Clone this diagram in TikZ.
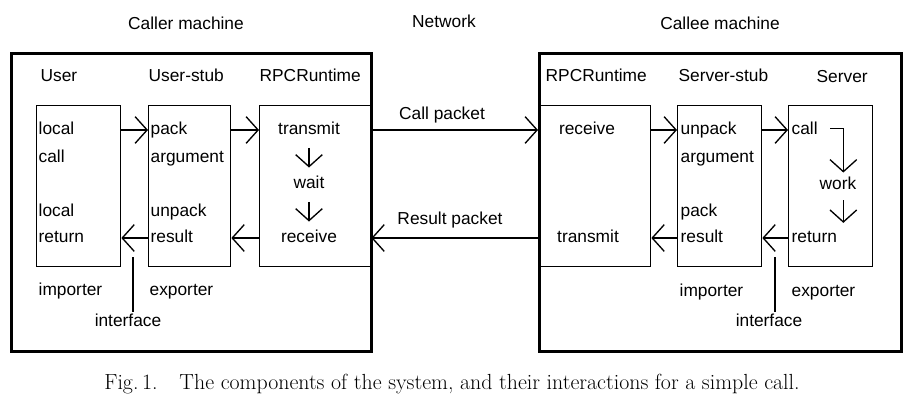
\documentclass[tikz,border=0pt]{standalone}
\usepackage{fontspec}
\setsansfont{Liberation Sans}
\usetikzlibrary{arrows.meta,positioning}
\tikzset{
  lbl/.style={anchor=west, text height=9.5pt, text depth=2.7pt},
  ctr/.style={anchor=center, text height=9.5pt, text depth=2.7pt},
  blk/.style 2 args={draw, line width=1pt, minimum width=#1*0.75pt, minimum height=#2*0.75pt, inner sep=0pt, anchor=north west},
  machine/.style 2 args={blk={#1}{#2}, line width=2pt},
}

\begin{document}
\begin{tikzpicture}[x=0.75pt,y=0.75pt,yscale=-1,
  every node/.style={font=\sffamily\fontsize{13}{15}\selectfont, inner sep=0.75pt},
  >={Straight Barb[length=9pt,width=20pt]}, line width=1pt]
\useasboundingbox (0,0) rectangle (909,403);

% Titles
\node (tcaller) at (186,23) {Caller machine};
\node (tnet) at (444,21) {Network};
\node (tcallee) at (720,23) {Callee machine};

% Caller machine
\node[machine={360}{298}] (caller) at (10,52) {};
\node[blk={84}{161}] (user) at (36,105) {};
\node[blk={82}{161}] (ustub) at (148,105) {};
\node[blk={111}{161}] (crpc) at (259,105) {};
\node[lbl] (huser) at (39,77) {User};
\node[lbl] (hustub) at (147,77) {User-stub};
\node[lbl] (hcrpc) at (258,77) {RPCRuntime};

% Text Node
\node[lbl] (lcall) at (37,130) {local};
\node[lbl] (lcallb) at (37,158) {call};
\node[lbl] (lret) at (37,212) {local};
\node[lbl] (lretb) at (37,238) {return};
\node[lbl] (upack) at (149,130) {pack};
\node[lbl] (uarg) at (149,158) {argument};
\node[lbl] (uunpack) at (149,212) {unpack};
\node[lbl] (ures) at (149,238) {result};
\node[ctr] (ctx) at (309,130) {transmit};
\node[ctr] (cwait) at (309,184) {wait};
\node[ctr] (crx) at (309,238) {receive};
\node[lbl] (uimp) at (37,291) {importer};
\node[lbl] (uexp) at (148,291) {exporter};
\node[ctr] (uif) at (128,322) {interface};
\coordinate (uifc) at (133,257);

% Callee machine
\node[machine={362}{298}] (callee) at (538,52) {};
\node[blk={112}{161}] (srpc) at (538,105) {};
\node[blk={84}{161}] (sstub) at (677,105) {};
\node[blk={84}{161}] (srv) at (788,105) {};
\node[lbl] (hsrpc) at (544,77) {RPCRuntime};
\node[lbl] (hsstub) at (677,77) {Server-stub};
\node[lbl] (hsrv) at (815,78) {Server};

% Text Node
\node[ctr] (srx) at (587,130) {receive};
\node[ctr] (stx) at (588,238) {transmit};
\node[lbl] (sunpack) at (679,130) {unpack};
\node[lbl] (sarg) at (679,158) {argument};
\node[lbl] (spack) at (679,212) {pack};
\node[lbl] (sres) at (679,238) {result};
\node[lbl] (scall) at (790,130) {call};
\node[ctr] (swork) at (838,185) {work};
\node[lbl] (sret) at (790,238) {return};
\node[lbl] (simp) at (678,292) {importer};
\node[lbl] (sexp) at (790,292) {exporter};
\node[ctr] (sif) at (769,322) {interface};
\coordinate (sifc) at (775,257);

% Network
\node[ctr] (callpk) at (442,115) {Call packet};
\node[ctr] (respk) at (450,220) {Result packet};

% call path
\draw[->] (user.east |- lcall) -- (ustub.west |- upack);
\draw[->] (ustub.east |- upack) -- (crpc.west |- ctx);
\draw[->, shorten <=6pt, shorten >=5pt] (ctx) -- (cwait);
\draw[->, shorten <=6pt, shorten >=5pt] (cwait) -- (crx);
\draw[->] (crpc.east |- ctx) -- (srpc.west |- srx);
\draw[->] (srpc.east |- srx) -- (sstub.west |- sunpack);
\draw[->] (sstub.east |- sunpack) -- (srv.west |- scall);
\draw[->, shorten >=2pt] ([xshift=8pt,yshift=-1pt]scall.east) -| ([xshift=4pt]swork.north);
\draw[->, shorten <=4pt, shorten >=4pt] ([xshift=4pt]swork.south) -- ([xshift=4pt]swork.south |- sret.north);

% return path
\draw[->] (srv.west |- sret) -- (sstub.east |- sres);
\draw[->] (sstub.west |- sres) -- (srpc.east |- stx);
\draw[->] (srpc.west |- stx) -- (crpc.east |- crx);
\draw[->] (crpc.west |- crx) -- (ustub.east |- ures);
\draw[->] (ustub.west |- ures) -- (user.east |- lretb);

% interfaces
\draw (uifc) -- (uifc |- uif.north);
\draw (sifc) -- (sifc |- sif.north);

% Caption
\node[font=\rmfamily\fontsize{16.4}{19}\selectfont] (cap) at (452,384) {Fig.\,1.\quad The components of the system, and their interactions for a simple call.};
\end{tikzpicture}
\end{document}
